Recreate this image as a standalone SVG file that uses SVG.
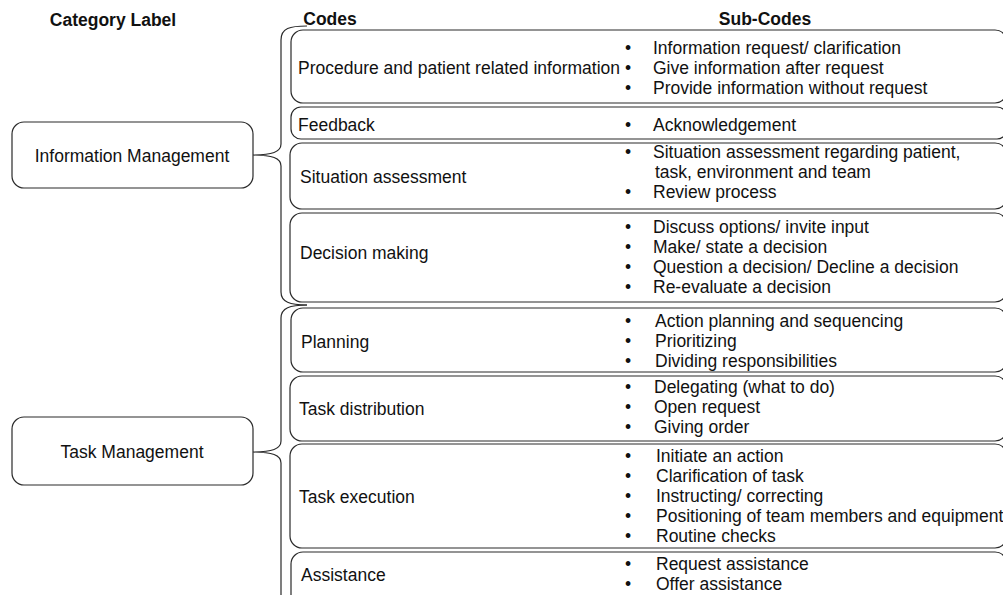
<svg xmlns="http://www.w3.org/2000/svg" width="1003" height="595" viewBox="0 0 1003 595">
<style>
text{font-family:"Liberation Sans",Arial,sans-serif;font-size:17.5px;fill:#111}
.h{font-weight:bold}
.c{text-anchor:middle}
.box{fill:#fff;stroke:#2a2a2a;stroke-width:1.2}
.br{fill:none;stroke:#2a2a2a;stroke-width:1.2}
</style>
<rect width="1003" height="595" fill="#fff"/>
<g id="headers">
<text class="h c" x="113" y="26">Category Label</text>
<text class="h c" x="330" y="25">Codes</text>
<text class="h c" x="765" y="25">Sub-Codes</text>
</g>
<g id="connectors">
<path class="br" d="M307 26 C290 26 281 28 281 40 L281 144 C281 152 272 155 253 155 C272 155 281 158 281 166 L281 292 C281 302 290 305 307 305"/>
<path class="br" d="M307 305 C290 305 281 308 281 318 L281 441 C281 449 272 452 253 452 C272 452 281 455 281 463 L281 600"/>
</g>
<g id="cat-info">
<rect class="box" x="12" y="122" width="241" height="66" rx="12"/>
<text class="c" x="132" y="162">Information Management</text>
</g>
<g id="cat-task">
<rect class="box" x="12" y="417" width="241" height="68" rx="12"/>
<text class="c" x="132" y="458">Task Management</text>
</g>
<g id="code-procedure">
<rect class="box" x="291" y="30" width="716" height="73" rx="12"/>
<text x="298" y="74">Procedure and patient related information</text>
<text x="625" y="54">•</text><text x="653" y="54">Information request/ clarification</text>
<text x="625" y="74">•</text><text x="653" y="74">Give information after request</text>
<text x="625" y="94">•</text><text x="653" y="94">Provide information without request</text>
</g>
<g id="code-feedback">
<rect class="box" x="291" y="107" width="716" height="32" rx="10"/>
<text x="298" y="131">Feedback</text>
<text x="625" y="131">•</text><text x="653" y="131">Acknowledgement</text>
</g>
<g id="code-situation">
<rect class="box" x="290" y="143" width="717" height="66" rx="12"/>
<text x="300" y="183">Situation assessment</text>
<text x="625" y="158">•</text><text x="653" y="158">Situation assessment regarding patient,</text>
<text x="655" y="178"> task, environment and team</text>
<text x="625" y="198">•</text><text x="653" y="198">Review process</text>
</g>
<g id="code-decision">
<rect class="box" x="290" y="213" width="717" height="89" rx="12"/>
<text x="300" y="259">Decision making</text>
<text x="625" y="233">•</text><text x="653" y="233">Discuss options/ invite input</text>
<text x="625" y="253">•</text><text x="653" y="253">Make/ state a decision</text>
<text x="625" y="273">•</text><text x="653" y="273">Question a decision/ Decline a decision</text>
<text x="625" y="293">•</text><text x="653" y="293">Re-evaluate a decision</text>
</g>
<g id="code-planning">
<rect class="box" x="291" y="308" width="716" height="64" rx="12"/>
<text x="301" y="348">Planning</text>
<text x="625" y="327">•</text><text x="655" y="327">Action planning and sequencing</text>
<text x="625" y="347">•</text><text x="655" y="347">Prioritizing</text>
<text x="625" y="367">•</text><text x="655" y="367">Dividing responsibilities</text>
</g>
<g id="code-distribution">
<rect class="box" x="290" y="376" width="717" height="65" rx="12"/>
<text x="299" y="415">Task distribution</text>
<text x="625" y="393">•</text><text x="654" y="393">Delegating (what to do)</text>
<text x="625" y="413">•</text><text x="654" y="413">Open request</text>
<text x="625" y="433">•</text><text x="654" y="433">Giving order</text>
</g>
<g id="code-execution">
<rect class="box" x="290" y="444" width="717" height="104" rx="12"/>
<text x="299" y="503">Task execution</text>
<text x="625" y="462">•</text><text x="656" y="462">Initiate an action</text>
<text x="625" y="482">•</text><text x="656" y="482">Clarification of task</text>
<text x="625" y="502">•</text><text x="656" y="502">Instructing/ correcting</text>
<text x="625" y="522">•</text><text x="656" y="522">Positioning of team members and equipment</text>
<text x="625" y="542">•</text><text x="656" y="542">Routine checks</text>
</g>
<g id="code-assistance">
<rect class="box" x="291" y="552" width="716" height="70" rx="12"/>
<text x="301" y="581">Assistance</text>
<text x="625" y="570">•</text><text x="656" y="570">Request assistance</text>
<text x="625" y="590">•</text><text x="656" y="590">Offer assistance</text>
</g>
</svg>
